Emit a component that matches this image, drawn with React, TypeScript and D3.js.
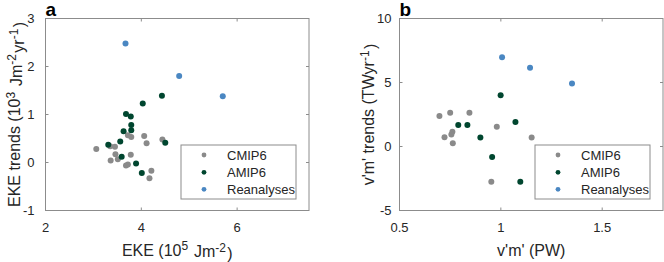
import * as d3 from 'd3';

// Legend / series
const seriesNames = ['CMIP6', 'AMIP6', 'Reanalyses'];
const seriesColors = ['#8a8a8a', '#00462f', '#4a87c2'];

// Panel a: EKE (10^5 Jm^-2) vs EKE trends (10^3 Jm^-2 yr^-1)
const ekeCmip6 = [3.06, 3.35, 3.45, 3.46, 3.51, 3.36, 3.72, 3.79, 4.06, 4.11, 4.44, 3.78, 3.68, 3.72, 4.21, 4.17];
const ekeTrendCmip6 = [0.28, 0.34, 0.33, 0.17, 0.07, 0.04, 0.57, 0.53, 0.55, 0.40, 0.48, 0.16, -0.06, -0.04, -0.17, -0.33];
const ekeAmip6 = [4.43, 4.03, 3.68, 3.78, 3.79, 3.79, 3.63, 3.56, 3.31, 4.50, 3.59, 3.89, 4.01];
const ekeTrendAmip6 = [1.39, 1.23, 1.01, 0.96, 0.78, 0.67, 0.65, 0.44, 0.37, 0.41, 0.12, -0.02, -0.22];
const ekeRean = [3.67, 4.79, 5.70];
const ekeTrendRean = [2.48, 1.80, 1.38];

// Panel b: v'm' (PW) vs v'm' trends (TW yr^-1)
const vmCmip6 = [0.697, 0.750, 0.845, 0.722, 0.761, 0.756, 0.763, 0.98, 1.152, 0.953];
const vmTrendCmip6 = [2.38, 2.64, 2.64, 0.73, 1.16, 0.93, 0.26, 1.55, 0.70, -2.76];
const vmAmip6 = [0.999, 1.072, 0.79, 0.835, 0.899, 0.957, 1.096];
const vmTrendAmip6 = [4.0, 1.92, 1.68, 1.68, 0.70, -0.83, -2.76];
const vmRean = [1.006, 1.144, 1.351];
const vmTrendRean = [6.98, 6.15, 4.93];

// Ticks
const ekeTicks = [2, 4, 6];
const ekeTrendTicks = [-1, 0, 1, 2, 3];
const vmTicks = [0.5, 1, 1.5];
const vmTrendTicks = [-5, 0, 5, 10];

const FONT = '"Liberation Sans", Arial, Helvetica, sans-serif';
const TEXT = '#262626';
const AXIS = '#8c8c8c';

type Series = { xs: number[], ys: number[] };

function Panel(props: {
    x0: number, x1: number, y0: number, y1: number,
    xDomain: [number, number], yDomain: [number, number],
    xTicks: number[], yTicks: number[],
    series: Series[],
    letter: string,
    xLabel: JSX.Element, yLabel: JSX.Element, yLabelX: number,
    tickGap: number
}) {
    const { x0, x1, y0, y1 } = props;
    const x = d3.scaleLinear().domain(props.xDomain).range([x0, x1]);
    const y = d3.scaleLinear().domain(props.yDomain).range([y1, y0]);
    const fmt = (v: number) => String(v);
    const tl = 3;

    // legend box, bottom-right
    const lx = x1 - 128, ly = 145, lw = 115, lh = 54;
    const rows = [10, 27.3, 44.3];

    return <g fontFamily={FONT} fill={TEXT}>
        <rect x={x0} y={y0} width={x1 - x0} height={y1 - y0} fill="white" stroke={AXIS} strokeWidth={1} />
        {props.xTicks.map(t => <g key={'xt' + t}>
            <line x1={x(t)} x2={x(t)} y1={y1} y2={y1 - tl} stroke={AXIS} />
            <line x1={x(t)} x2={x(t)} y1={y0} y2={y0 + tl} stroke={AXIS} />
            <text x={x(t)} y={231.5} textAnchor="middle" fontSize={13}>{fmt(t)}</text>
        </g>)}
        {props.yTicks.map(t => <g key={'yt' + t}>
            <line x1={x0} x2={x0 + tl} y1={y(t)} y2={y(t)} stroke={AXIS} />
            <line x1={x1} x2={x1 - tl} y1={y(t)} y2={y(t)} stroke={AXIS} />
            <text x={x0 - props.tickGap} y={y(t)} dy="0.36em" textAnchor="end" fontSize={13}>{fmt(t)}</text>
        </g>)}

        {props.series.map((s, si) => s.xs.map((v, i) =>
            <circle key={si + '-' + i} cx={x(v)} cy={y(s.ys[i])} r={3} fill={seriesColors[si]} />
        ))}

        <rect x={lx} y={ly} width={lw} height={lh} fill="white" stroke={AXIS} strokeWidth={1} />
        {seriesNames.map((n, i) => <g key={n}>
            <circle cx={lx + 23} cy={ly + rows[i]} r={2.4} fill={seriesColors[i]} />
            <text x={lx + 46} y={ly + rows[i]} dy="0.36em" fontSize={13}>{n}</text>
        </g>)}

        <text x={(x0 + x1) / 2} y={255.5} textAnchor="middle" fontSize={16}>{props.xLabel}</text>
        <text transform={`translate(${props.yLabelX},${(y0 + y1) / 2}) rotate(-90)`} textAnchor="middle" fontSize={16}>{props.yLabel}</text>
        <text x={x0} y={16} fontSize={19} fontWeight="bold" fill="#000">{props.letter}</text>
    </g>;
}

function Sup(props: { t: string }) {
    return <>
        <tspan dy="-0.45em" fontSize="0.75em">{props.t}</tspan>
        <tspan dy="0.45em">{'\u200A'}</tspan>
    </>;
}

export default function App() {
    return <svg width={664} height={262} style={{ position: 'absolute', left: 0, top: 0, background: 'white' }}>
        <Panel
            x0={45.5} x1={309} y0={18.5} y1={210.5}
            xDomain={[2, 7.5]} yDomain={[-1, 3]}
            xTicks={ekeTicks} yTicks={ekeTrendTicks}
            series={[
                { xs: ekeCmip6, ys: ekeTrendCmip6 },
                { xs: ekeAmip6, ys: ekeTrendAmip6 },
                { xs: ekeRean, ys: ekeTrendRean },
            ]}
            letter="a"
            xLabel={<>EKE (10<Sup t="5" /> Jm<Sup t="-2" />)</>}
            yLabel={<>EKE trends (10<Sup t="3" /> Jm<Sup t="-2" />yr<Sup t="-1" />)</>}
            yLabelX={20}
            tickGap={11}
        />
        <Panel
            x0={399.5} x1={663} y0={18.5} y1={210.5}
            xDomain={[0.5, 1.8]} yDomain={[-5, 10]}
            xTicks={vmTicks} yTicks={vmTrendTicks}
            series={[
                { xs: vmCmip6, ys: vmTrendCmip6 },
                { xs: vmAmip6, ys: vmTrendAmip6 },
                { xs: vmRean, ys: vmTrendRean },
            ]}
            letter="b"
            xLabel={<>v'm' (PW)</>}
            yLabel={<>v'm' trends (TWyr<Sup t="-1" />)</>}
            yLabelX={374}
            tickGap={8}
        />
    </svg>;
}
